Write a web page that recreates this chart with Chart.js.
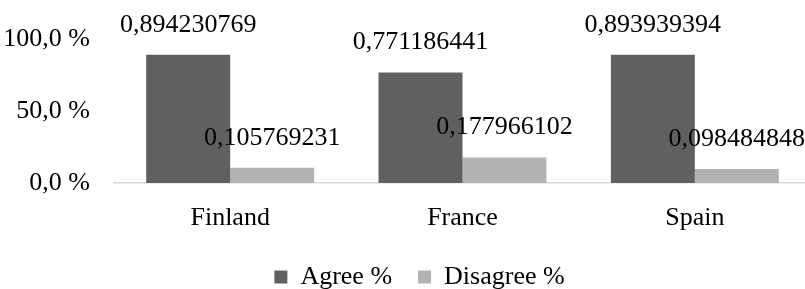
<!DOCTYPE html>
<html>
<head>
<meta charset="utf-8">
<script src="https://cdn.jsdelivr.net/npm/chart.js@4/dist/chart.umd.min.js"></script>
<style>
  html, body { margin: 0; padding: 0; background: #fff; overflow: hidden; }
  #wrap { position: relative; width: 812px; height: 300px; }
</style>
</head>
<body>
<div id="wrap"><canvas id="chart"></canvas></div>
<script>
const countries = ['Finland', 'France', 'Spain'];
const agreeShare = [0.894230769, 0.771186441, 0.893939394];
const disagreeShare = [0.105769231, 0.177966102, 0.098484848];
const yTicks = [0, 0.5, 1];

const FONT = 'Liberation Serif, Times New Roman, serif';
const SIZE = 26;

// labels above each bar, value written with a decimal comma
const valueLabels = {
  id: 'valueLabels',
  afterDatasetsDraw(chart) {
    const ctx = chart.ctx;
    ctx.save();
    ctx.font = SIZE + 'px ' + FONT;
    ctx.fillStyle = '#000';
    ctx.textAlign = 'center';
    ctx.textBaseline = 'middle';
    chart.data.datasets.forEach((ds, i) => {
      chart.getDatasetMeta(i).data.forEach((bar, j) => {
        const txt = String(ds.data[j]).replace('.', ',');
        ctx.fillText(txt, bar.x, bar.y - 30);
      });
    });
    ctx.restore();
  },
};

// the legend in the original sits a little right of centre
const legendShift = {
  id: 'legendShift',
  afterLayout(chart) {
    if (chart.legend) {
      chart.legend.left += 14;
      chart.legend.right += 14;
    }
  },
};

new Chart(document.getElementById('chart'), {
  type: 'bar',
  data: {
    labels: countries,
    datasets: [
      {
        label: 'Agree %',
        data: agreeShare,
        backgroundColor: '#606060',
        categoryPercentage: 0.723,
        barPercentage: 1,
      },
      {
        label: 'Disagree %',
        data: disagreeShare,
        backgroundColor: '#b3b3b3',
        categoryPercentage: 0.723,
        barPercentage: 1,
      },
    ],
  },
  options: {
    responsive: true,
    maintainAspectRatio: false,
    animation: false,
    layout: { padding: { top: 37, right: 1, left: 0, bottom: 0 } },
    scales: {
      x: {
        grid: { display: false },
        border: { display: true, color: '#d9d9d9', width: 1.5 },
        ticks: { color: '#000', font: { family: FONT, size: SIZE }, padding: 12 },
        afterFit: (scale) => { scale.height = 55; },
      },
      y: {
        min: 0,
        max: 1,
        grid: { display: false, drawTicks: false },
        border: { display: false },
        afterBuildTicks: (scale) => {
          scale.ticks = yTicks.map((v) => ({ value: v }));
        },
        afterFit: (scale) => { scale.width = 114; },
        ticks: {
          color: '#000',
          padding: 24,
          font: { family: FONT, size: SIZE },
          callback: (v) => (v * 100).toFixed(1).replace('.', ',') + ' %',
        },
      },
    },
    plugins: {
      legend: {
        position: 'bottom',
        labels: {
          color: '#000',
          font: { family: FONT, size: SIZE },
          boxWidth: 13,
          boxHeight: 13,
          padding: 26,
        },
      },
      tooltip: { enabled: false },
    },
  },
  plugins: [valueLabels, legendShift],
});
</script>
</body>
</html>
